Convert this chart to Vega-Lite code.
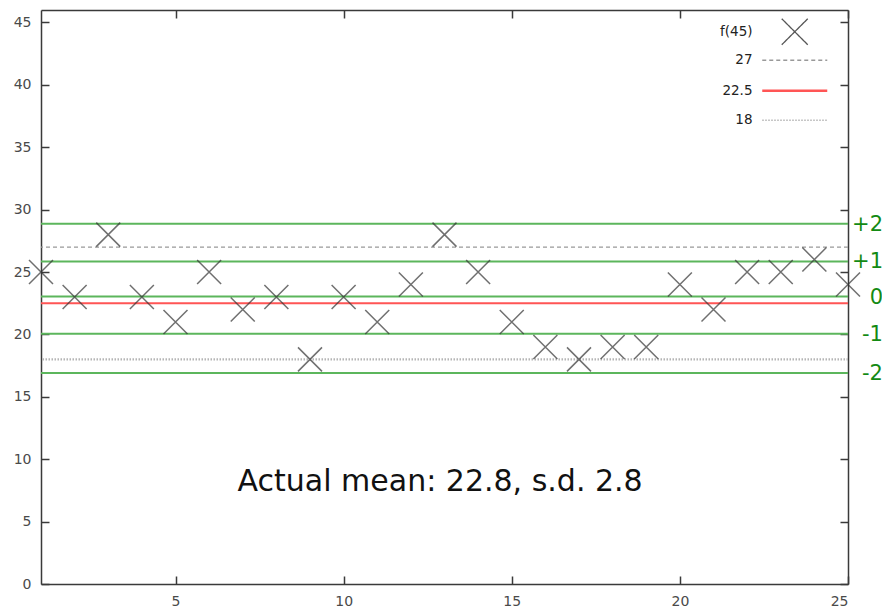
{
  "$schema": "https://vega.github.io/schema/vega-lite/v6.json",
  "width": 807,
  "height": 574,
  "autosize": {"type": "none"},
  "padding": {"left": 41, "top": 10, "right": 34, "bottom": 24},
  "background": "white",
  "config": {
    "view": {"stroke": null},
    "axis": {
      "domainColor": "#3a3a3a",
      "domainWidth": 1.5,
      "tickColor": "#3a3a3a",
      "tickWidth": 1.5,
      "tickSize": -8,
      "grid": false,
      "title": null,
      "labelFont": "DejaVu Sans",
      "labelFontSize": 14,
      "labelColor": "#4a4a4a"
    }
  },
  "datasets": {
    "pts": [
      {"n": 1, "v": 25}, {"n": 2, "v": 23}, {"n": 3, "v": 28}, {"n": 4, "v": 23},
      {"n": 5, "v": 21}, {"n": 6, "v": 25}, {"n": 7, "v": 22}, {"n": 8, "v": 23},
      {"n": 9, "v": 18}, {"n": 10, "v": 23}, {"n": 11, "v": 21}, {"n": 12, "v": 24},
      {"n": 13, "v": 28}, {"n": 14, "v": 25}, {"n": 15, "v": 21}, {"n": 16, "v": 19},
      {"n": 17, "v": 18}, {"n": 18, "v": 19}, {"n": 19, "v": 19}, {"n": 20, "v": 24},
      {"n": 21, "v": 22}, {"n": 22, "v": 25}, {"n": 23, "v": 25}, {"n": 24, "v": 26},
      {"n": 25, "v": 24}
    ],
    "sd": [
      {"level": "+2", "val": 28.87},
      {"level": "+1", "val": 25.85},
      {"level": "0", "val": 23.04},
      {"level": "-1", "val": 20.05},
      {"level": "-2", "val": 16.9}
    ],
    "ref": [
      {"series": "27", "val": 27},
      {"series": "22.5", "val": 22.5},
      {"series": "18", "val": 18}
    ],
    "note": [
      {"label": "Actual mean: 22.8, s.d. 2.8"}
    ]
  },
  "resolve": {"axis": {"x": "independent", "y": "independent"}},
  "layer": [
    {
      "data": {"name": "sd"},
      "mark": {"type": "rule", "color": "#5cb65c", "strokeWidth": 2},
      "encoding": {
        "y": {"field": "val", "type": "quantitative", "scale": {"domain": [0, 46], "nice": false, "zero": false}, "axis": null}
      }
    },
    {
      "data": {"name": "ref"},
      "mark": {"type": "rule"},
      "encoding": {
        "y": {"field": "val", "type": "quantitative", "axis": null},
        "color": {
          "field": "series", "type": "nominal",
          "scale": {"domain": ["f(45)", "27", "22.5", "18"], "range": ["#555555", "#999999", "#ff5555", "#b5b5b5"]},
          "legend": {
            "title": null,
            "orient": "top-right",
            "offset": 15,
            "padding": 0,
            "symbolSize": 676,
            "rowPadding": -4.5,
            "symbolOffset": 30,
            "labelOffset": -49,
            "labelAlign": "right",
            "labelFont": "DejaVu Sans",
            "labelFontSize": 13.5,
            "labelColor": "#222222",
            "encode": {
              "symbols": {
                "update": {
                  "shape": {"signal": "datum.value === 'f(45)' ? 'M0,-1.25M-1,-1L1,1M-1,1L1,-1M0,1.1' : 'M-1,-0.4M-1,0L1,0M1,0.4'"},
                  "size": {"signal": "datum.value === 'f(45)' ? 676 : 4225"},
                  "strokeDash": {"signal": "datum.value === '27' ? [4,3] : (datum.value === '18' ? [1.5,1.5] : [1,0])"},
                  "strokeWidth": {"signal": "datum.value === '22.5' ? 2.5 : 1.3"},
                  "fill": {"value": "transparent"}
                }
              }
            }
          }
        },
        "strokeDash": {
          "field": "series", "type": "nominal",
          "scale": {"domain": ["27", "22.5", "18"], "range": [[4, 3], [1, 0], [1.5, 1.5]]},
          "legend": null
        },
        "strokeWidth": {
          "field": "series", "type": "nominal",
          "scale": {"domain": ["27", "22.5", "18"], "range": [1.3, 2.4, 1.3]},
          "legend": null
        }
      }
    },
    {
      "data": {"name": "pts"},
      "mark": {"type": "point", "shape": "M-1,-1L1,1M-1,1L1,-1", "size": 576, "stroke": "#333333", "strokeWidth": 1.5, "opacity": 0.7, "filled": false},
      "encoding": {
        "x": {"field": "n", "type": "quantitative", "scale": {"domain": [1, 25], "nice": false, "zero": false},
              "axis": {"orient": "bottom", "values": [5, 10, 15, 20, 25], "labelPadding": 18}},
        "y": {"field": "v", "type": "quantitative",
              "axis": {"orient": "left", "values": [0, 5, 10, 15, 20, 25, 30, 35, 40, 45], "labelPadding": 18}}
      }
    },
    {
      "data": {"name": "sd"},
      "mark": {"type": "text", "align": "right", "baseline": "middle", "dx": 35, "dy": 1, "font": "DejaVu Sans", "fontSize": 21, "color": "#138a13"},
      "encoding": {
        "x": {"datum": 25, "type": "quantitative",
              "axis": {"orient": "top", "values": [5, 10, 15, 20, 25], "labels": false}},
        "y": {"field": "val", "type": "quantitative",
              "axis": {"orient": "right", "values": [0, 5, 10, 15, 20, 25, 30, 35, 40, 45], "labels": false}},
        "text": {"field": "level"}
      }
    },
    {
      "data": {"name": "note"},
      "mark": {"type": "text", "align": "center", "baseline": "alphabetic", "font": "DejaVu Sans", "fontSize": 30, "color": "#111111"},
      "encoding": {
        "x": {"datum": 12.87, "type": "quantitative", "axis": null},
        "y": {"datum": 7.46, "type": "quantitative", "axis": null},
        "text": {"field": "label"}
      }
    }
  ]
}
